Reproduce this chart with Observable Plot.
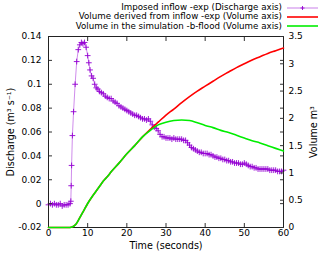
<!DOCTYPE html>
<html>
<head>
<meta charset="utf-8">
<script src="https://cdn.jsdelivr.net/npm/d3@7"></script>
<script src="https://cdn.jsdelivr.net/npm/@observablehq/plot@0.6"></script>
<style>
  html, body { margin: 0; padding: 0; background: #fff; }
  #wrap { position: relative; width: 320px; height: 254px; font-family: "DejaVu Sans", Verdana, sans-serif; }
  #wrap > svg { position: absolute; left: 0; top: 0; }
  #legend { position: absolute; top: 3px; right: 2px; font-size: 8.7px; line-height: 9.3px; color: #000; }
  #legend .row { display: flex; align-items: center; justify-content: flex-end; height: 9.3px; white-space: nowrap; }
  #legend svg { margin-left: 5px; }
</style>
</head>
<body>
<div id="wrap"></div>
<script>
// ---- data ----
const dischargeTime = [0,0.5,1,1.5,2,2.5,3,3.5,4,4.5,5,5.5,5.7,5.8,5.9,6.1,6.4,6.8,7.2,7.6,8,8.4,8.8,9.2,9.6,10,10.3,10.6,11,11.4,11.8,12.2,12.6,13,13.5,14,14.5,15,15.5,16,16.5,17,17.5,18,18.5,19,19.5,20,20.5,21,21.5,22,22.5,23,23.5,24,24.5,25,25.5,26,26.5,27,27.5,28,28.5,29,29.5,30,30.5,31,31.5,32,32.5,33,33.5,34,34.5,35,35.5,36,36.5,37,37.5,38,38.5,39,39.5,40,40.5,41,41.5,42,42.5,43,43.5,44,44.5,45,45.5,46,46.5,47,47.5,48,48.5,49,49.5,50,50.5,51,51.5,52,52.5,53,53.5,54,54.5,55,55.5,56,56.5,57,57.5,58,58.5,59,59.5,60];
const dischargeValue = [-0.001,0.000,-0.001,0.000,-0.001,-0.001,0.000,-0.002,-0.001,-0.001,-0.001,0.000,0.002,0.015,0.032,0.057,0.077,0.100,0.119,0.129,0.133,0.135,0.134,0.135,0.131,0.124,0.118,0.112,0.107,0.105,0.100,0.097,0.096,0.094,0.093,0.092,0.090,0.089,0.088,0.088,0.086,0.085,0.084,0.082,0.081,0.080,0.079,0.078,0.077,0.076,0.075,0.074,0.074,0.073,0.072,0.071,0.071,0.070,0.071,0.069,0.066,0.064,0.063,0.061,0.058,0.056,0.056,0.055,0.055,0.055,0.054,0.055,0.054,0.054,0.054,0.054,0.053,0.053,0.051,0.049,0.047,0.046,0.045,0.044,0.043,0.043,0.042,0.042,0.042,0.041,0.041,0.040,0.039,0.039,0.038,0.038,0.037,0.037,0.036,0.036,0.035,0.035,0.034,0.034,0.034,0.033,0.033,0.034,0.033,0.032,0.031,0.031,0.030,0.030,0.029,0.029,0.029,0.029,0.029,0.029,0.028,0.028,0.028,0.028,0.027,0.027,0.027,0.028];

const volumeTime    = [0,5,6,7,8,9,10,11,12,13,14,15,16,18,20,22,24,26,28,30,32,34,36,38,40,42,44,46,48,50,52,54,56,58,60];
const volumeDerived = [0,0,0.01,0.06,0.18,0.31,0.44,0.55,0.65,0.75,0.85,0.93,1.02,1.18,1.35,1.50,1.66,1.80,1.93,2.06,2.17,2.29,2.40,2.50,2.59,2.68,2.77,2.85,2.93,3.00,3.07,3.13,3.19,3.24,3.29];
const volumeSim     = [0,0,0.01,0.06,0.18,0.31,0.44,0.55,0.65,0.75,0.85,0.93,1.02,1.18,1.35,1.50,1.66,1.78,1.88,1.93,1.96,1.97,1.96,1.92,1.87,1.83,1.78,1.74,1.69,1.64,1.59,1.55,1.50,1.45,1.40];

const xTicks = [0,10,20,30,40,50,60];
const qTicks = [-0.02,0,0.02,0.04,0.06,0.08,0.1,0.12,0.14];
const vTicks = [0,0.5,1,1.5,2,2.5,3,3.5];

const seriesNames = ["Imposed inflow -exp (Discharge axis)", "Volume derived from inflow -exp (Volume axis)", "Volume in the simulation -b-flood (Volume axis)"];
const seriesColors = ["#9400d3", "#ff0000", "#00ee00"];
const xLabel = "Time (seconds)";
const yLabel = "Discharge (m³ s⁻¹)";
const y2Label = "Volume m³";

// ---- layout ----
const W = 320, H = 254;
const margins = {marginLeft: 48, marginRight: 37, marginTop: 36, marginBottom: 27};
const fmt = d => String(+d.toFixed(2));
const font = {fontFamily: "'DejaVu Sans', Verdana, sans-serif", fontSize: "9px", background: "transparent", color: "#000"};

const discharge = dischargeTime.map((t, i) => ({t, q: dischargeValue[i]}));
const vol = volumeTime.map((t, i) => ({t, a: volumeDerived[i], b: volumeSim[i]}));

const base = Plot.plot({
  width: W, height: H, ...margins, style: font,
  x: {domain: [0, 60]},
  y: {domain: [-0.02, 0.14]},
  marks: [
    Plot.line(discharge, {x: "t", y: "q", stroke: seriesColors[0], strokeWidth: 0.9, strokeOpacity: 0.5}),
    Plot.dot(discharge, {x: "t", y: "q", symbol: "plus", r: 2, stroke: seriesColors[0], strokeWidth: 0.9}),
    Plot.axisX({ticks: xTicks, tickSize: -4, tickPadding: 6, tickFormat: fmt, label: null, stroke: "#333"}),
    Plot.axisX({anchor: "top", ticks: xTicks, tickSize: -4, tickFormat: () => "", label: null, stroke: "#333"}),
    Plot.axisY({ticks: qTicks, tickSize: -4, tickPadding: 11, tickFormat: fmt, label: null, stroke: "#333"}),
    Plot.axisY({anchor: "right", ticks: qTicks, tickSize: -4, tickFormat: () => "", label: null, stroke: "#333"}),
    Plot.frame({stroke: "#222", strokeWidth: 1}),
    Plot.text([xLabel], {frameAnchor: "bottom", dy: 18.5, lineAnchor: "middle", textAnchor: "middle", fontSize: 9.6}),
    Plot.text([yLabel], {frameAnchor: "left", rotate: -90, dx: -38, lineAnchor: "middle", textAnchor: "middle", fontSize: 9.6})
  ]
});

const over = Plot.plot({
  width: W, height: H, ...margins, style: font,
  x: {domain: [0, 60], axis: null},
  y: {domain: [0, 3.5], axis: null},
  marks: [
    Plot.line(vol, {x: "t", y: "a", stroke: seriesColors[1], strokeWidth: 1.6, curve: "monotone-x"}),
    Plot.line(vol, {x: "t", y: "b", stroke: seriesColors[2], strokeWidth: 1.6, curve: "monotone-x"}),
    Plot.axisY({anchor: "right", ticks: vTicks, tickSize: -4, tickPadding: 9, tickFormat: fmt, label: null, stroke: "#333"}),
    Plot.text([y2Label], {frameAnchor: "right", rotate: -90, dx: 30, lineAnchor: "middle", textAnchor: "middle", fontSize: 9.6})
  ]
});

const wrap = document.getElementById("wrap");
wrap.appendChild(base);
wrap.appendChild(over);

// legend
const legend = document.createElement("div");
legend.id = "legend";
seriesNames.forEach((name, i) => {
  const row = document.createElement("div");
  row.className = "row";
  const span = document.createElement("span");
  span.textContent = name;
  row.appendChild(span);
  const ns = "http://www.w3.org/2000/svg";
  const s = document.createElementNS(ns, "svg");
  s.setAttribute("width", 31); s.setAttribute("height", 8);
  const l = document.createElementNS(ns, "line");
  l.setAttribute("x1", 0); l.setAttribute("x2", 31); l.setAttribute("y1", 4); l.setAttribute("y2", 4);
  l.setAttribute("stroke", seriesColors[i]);
  l.setAttribute("stroke-width", i === 0 ? 1 : 1.6);
  if (i === 0) l.setAttribute("stroke-opacity", 0.5);
  s.appendChild(l);
  if (i === 0) {
    const p = document.createElementNS(ns, "path");
    p.setAttribute("d", "M15.5,2V6M13.5,4H17.5");
    p.setAttribute("stroke", seriesColors[0]); p.setAttribute("stroke-width", 0.9);
    s.appendChild(p);
  }
  row.appendChild(s);
  legend.appendChild(row);
});
wrap.appendChild(legend);
</script>
</body>
</html>
